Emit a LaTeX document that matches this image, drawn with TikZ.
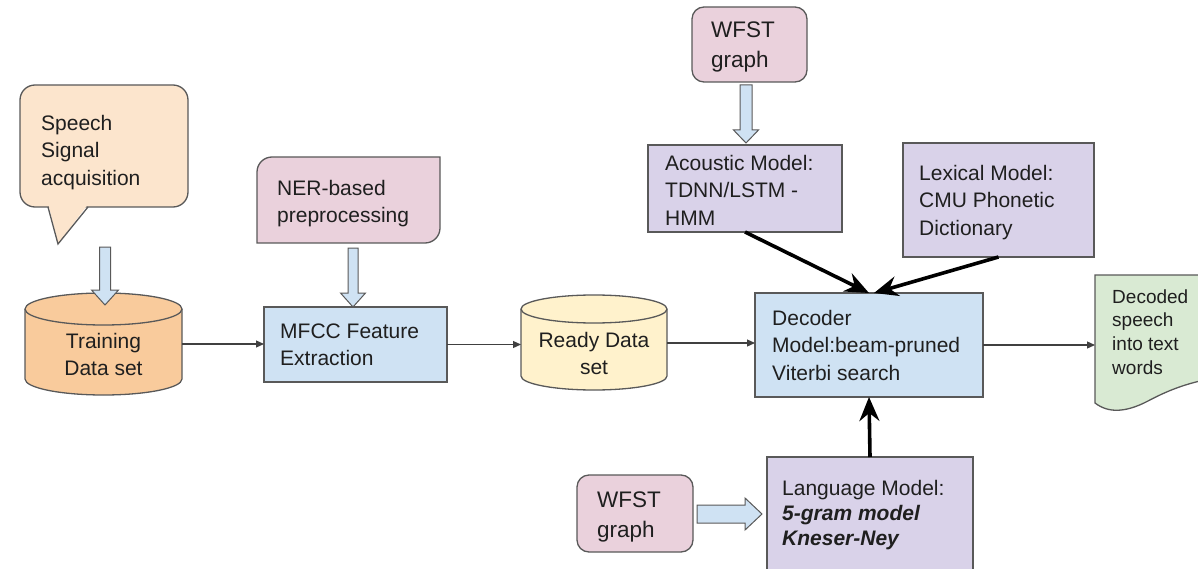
\documentclass[tikz,border=0pt]{standalone}
\usepackage{fontspec}
\setmainfont{Liberation Sans}
\usetikzlibrary{arrows.meta,calc}

\definecolor{edge}{HTML}{595959}
\definecolor{ink}{HTML}{1F1F1F}
\definecolor{peach}{HTML}{FCE5CD}
\definecolor{orangefill}{HTML}{F9CB9C}
\definecolor{pinkfill}{HTML}{EAD1DC}
\definecolor{bluefill}{HTML}{CFE2F3}
\definecolor{yellowfill}{HTML}{FFF2CC}
\definecolor{purplefill}{HTML}{D9D2E9}
\definecolor{greenfill}{HTML}{D9EAD3}

% text sizes (size / line spacing)
\newcommand\fA{\fontsize{21}{27.5}\selectfont}
\newcommand\fW{\fontsize{22.5}{30.5}\selectfont}
\newcommand\fD{\fontsize{19}{23.7}\selectfont}
\newcommand\fL{\fontsize{21}{25}\selectfont}

% hollow block arrows: start, tip, shaft half width, head half width, head length
\newcommand\blockdown[5]{\path[barrow] let \p1=#1, \p2=#2 in
  (\x1-#3,\y1) -- (\x1+#3,\y1) -- (\x1+#3,\y2+#5) -- (\x1+#4,\y2+#5) -- (\x1,\y2)
  -- (\x1-#4,\y2+#5) -- (\x1-#3,\y2+#5) -- cycle;}
\newcommand\blockright[5]{\path[barrow] let \p1=#1, \p2=#2 in
  (\x1,\y1+#3) -- (\x2-#5,\y1+#3) -- (\x2-#5,\y1+#4) -- (\x2,\y1) -- (\x2-#5,\y1-#4)
  -- (\x2-#5,\y1-#3) -- (\x1,\y1-#3) -- cycle;}

\begin{document}
\begin{tikzpicture}[x=1pt,y=-1pt,
  frame/.style={draw=edge,line width=1.3pt},
  hold/.style={inner sep=0pt,outer sep=0pt},
  lbl/.style={inner sep=0pt,anchor=north west,align=left,text=ink,font=\fA},
  flow/.style={draw=black!75,line width=1.2pt,-{Triangle[length=8pt,width=7pt]}},
  heavy/.style={draw=black,line width=3.6pt,-{Stealth[length=24pt,width=20pt,inset=8pt]}},
  barrow/.style={fill=bluefill,draw=edge,line width=1pt}]

\useasboundingbox (0,0) rectangle (1198,569);
\clip (0,0) rectangle (1198,569);

% ---------- node frames ----------
\node[hold,frame,fill=peach,rounded corners=15pt,minimum width=168pt,minimum height=122pt] (speech) at (104,146) {};
\node[hold,minimum width=157pt,minimum height=102pt] (train) at (103.5,344) {};
\node[hold,minimum width=183pt,minimum height=86pt] (ner) at (348.5,200) {};
\node[hold,frame,fill=bluefill,minimum width=183pt,minimum height=75pt] (mfcc) at (355.5,344.5) {};
\node[hold,minimum width=146pt,minimum height=95pt] (ready) at (594,343) {};
\node[hold,frame,fill=pinkfill,rounded corners=12pt,minimum width=115pt,minimum height=75pt] (wfstA) at (749.5,44.5) {};
\node[hold,frame,fill=purplefill,minimum width=194pt,minimum height=87pt] (acoustic) at (745,188.5) {};
\node[hold,frame,fill=purplefill,minimum width=191pt,minimum height=114pt] (lexical) at (998.5,200) {};
\node[hold,frame,fill=bluefill,minimum width=228pt,minimum height=104pt] (decoder) at (869,345) {};
\node[hold,minimum width=115pt,minimum height=128pt] (doc) at (1152.5,339) {};
\node[hold,frame,fill=purplefill,minimum width=206pt,minimum height=118pt] (lm) at (870,516) {};
\node[hold,frame,fill=pinkfill,rounded corners=12pt,minimum width=116pt,minimum height=77pt] (wfstB) at (635,513.5) {};

% tail of the speech bubble, covering the frame where it joins
\fill[peach] ($(speech.south west)+(28.6,-2)$) -- ($(speech.south west)+(67.4,-2)$)
  -- ($(speech.south west)+(38,37)$) -- cycle;
\draw[frame,line join=miter] ($(speech.south west)+(28,0)$) -- ($(speech.south west)+(38,37)$)
  -- ($(speech.south west)+(68,0)$);

% box with two rounded corners
\draw[frame,fill=pinkfill] (ner.west) [rounded corners=15pt] -- (ner.north west) -- (ner.north)
  [sharp corners] -- (ner.north east) -- (ner.east) [rounded corners=15pt] -- (ner.south east)
  -- (ner.south) [sharp corners] -- (ner.south west) -- cycle;

% data-set cylinders
\draw[frame,fill=orangefill] (25,309) -- (25,379)
  arc[start angle=180,end angle=360,x radius=78.5pt,y radius=16pt] -- (182,309)
  arc[start angle=0,end angle=180,x radius=78.5pt,y radius=16pt] -- cycle;
\draw[frame] (25,309) arc[start angle=180,end angle=360,x radius=78.5pt,y radius=16pt];

\draw[frame,fill=yellowfill] (521,309) -- (521,376)
  arc[start angle=180,end angle=360,x radius=73pt,y radius=14pt] -- (667,309)
  arc[start angle=0,end angle=180,x radius=73pt,y radius=14pt] -- cycle;
\draw[frame] (521,309) arc[start angle=180,end angle=360,x radius=73pt,y radius=14pt];

% output document with wavy lower edge
\draw[frame,fill=greenfill] (1095,275) -- (1215,275) -- (1215,378)
  .. controls (1185,383) and (1165,392) .. (1148,401)
  .. controls (1125,413) and (1108,413) .. (1095,403) -- cycle;

% ---------- texts ----------
\node[lbl] (speech-t) at (41,110.75) {\strut Speech\\Signal\\acquisition};
\node[lbl,anchor=north,align=center] (train-t) at (103.5,328.75) {\strut Training\\Data set};
\node[lbl] (ner-t) at (277,175.75) {\strut NER-based\\preprocessing};
\node[lbl] (mfcc-t) at (280,318.75) {\strut MFCC Feature\\Extraction};
\node[lbl,anchor=north,align=center] (ready-t) at (594,327.75) {\strut Ready Data\\set};
\node[lbl,font=\fW] (wfstA-t) at (711,15.65) {\strut WFST\\graph};
\node[lbl] (acoustic-t) at (665,150.75) {\strut Acoustic Model:\\TDNN/LSTM -\\HMM};
\node[lbl] (lexical-t) at (919,160.75) {\strut Lexical Model:\\CMU Phonetic\\Dictionary};
\node[lbl] (decoder-t) at (772,305.75) {\strut Decoder\\Model:beam-pruned\\Viterbi search};
\node[lbl,font=\fD] (doc-t) at (1112,286.4) {\strut Decoded\\speech\\into text\\words};
\node[lbl,font=\fL] (lm-t) at (782,477.5) {\strut Language Model:\\\textbf{\textit{5-gram model}}\\\textbf{\textit{Kneser-Ney}}};
\node[lbl,font=\fW] (wfstB-t) at (597,485.65) {\strut WFST\\graph};

% ---------- connectors ----------
\draw[flow] (train.east) -- (train.east -| mfcc.west);
\draw[flow] (mfcc.east) -- (mfcc.east -| ready.west);
\draw[flow] (ready.east) -- (ready.east -| decoder.west);
\draw[flow] (decoder.east) -- (decoder.east -| doc.west);

\draw[heavy] (acoustic.south) -- (decoder.north);
\draw[heavy] (lexical.south) -- ($(decoder.north)+(5,0)$);
\draw[heavy] (lm.north) -- (decoder.south);

\blockdown{($(speech.south)+(1,40)$)}{($(train.north)+(0,12)$)}{5.5pt}{13.5pt}{15pt}
\blockdown{($(ner.south)+(4.5,5)$)}{(mfcc.north)}{5pt}{12.5pt}{14pt}
\blockdown{($(wfstA.south)+(-3.5,3)$)}{($(acoustic.north)+(0,-2)$)}{6pt}{12.5pt}{13pt}
\blockright{($(wfstB.east)+(4,0.5)$)}{($(lm.west)+(-5,0)$)}{9pt}{16pt}{17pt}

\end{tikzpicture}
\end{document}
